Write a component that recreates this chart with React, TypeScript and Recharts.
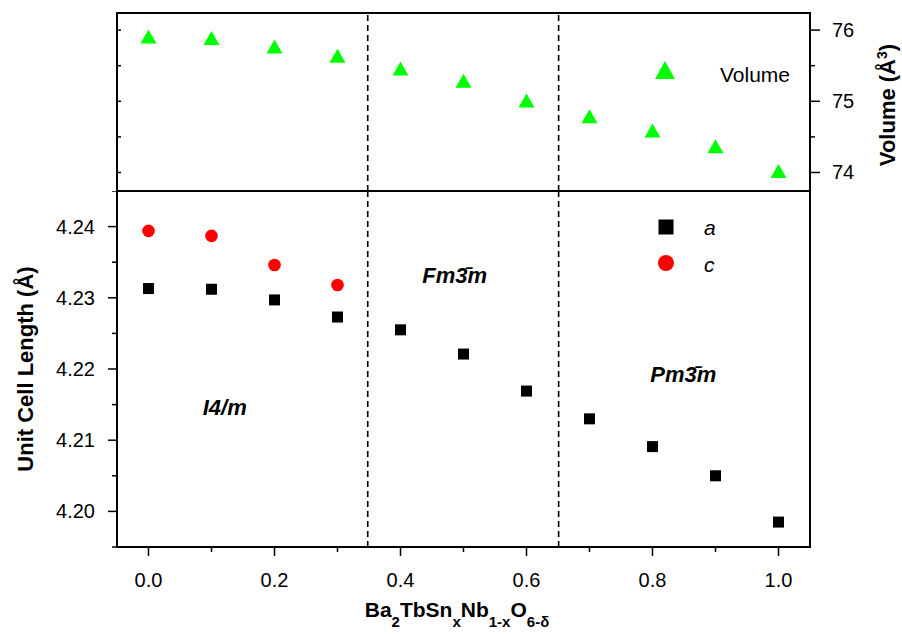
import React from "react";
import {
  ScatterChart,
  Scatter,
  XAxis,
  YAxis,
  ReferenceLine,
  ReferenceArea,
  ReferenceDot,
  Legend,
} from "recharts";

const FONT = '"Liberation Sans", Arial, Helvetica, sans-serif';

// composition x of Ba2TbSnxNb1-xO6-d
const xValues = [0, 0.1, 0.2, 0.3, 0.4, 0.5, 0.6, 0.7, 0.8, 0.9, 1.0];
// cell volume (A^3)
const volume = [75.91, 75.89, 75.77, 75.64, 75.46, 75.29, 75.01, 74.79, 74.59, 74.37, 74.02];
// lattice parameter a (A)
const aLength = [4.2313, 4.2312, 4.2297, 4.2273, 4.2255, 4.2221, 4.2169, 4.213, 4.2091, 4.205, 4.1985];
// tetragonal c (A), only below x = 0.35
const cX = [0, 0.1, 0.2, 0.3];
const cLength = [4.2394, 4.2387, 4.2346, 4.2318];

const xTicks = [0, 0.1, 0.2, 0.3, 0.4, 0.5, 0.6, 0.7, 0.8, 0.9, 1.0];
const xMajor = [0, 0.2, 0.4, 0.6, 0.8, 1.0];
const volumeTicks = [74, 74.5, 75, 75.5, 76];
const volumeMajor = [74, 75, 76];
const lengthTicks = [4.195, 4.2, 4.205, 4.21, 4.215, 4.22, 4.225, 4.23, 4.235, 4.24, 4.245];
const lengthMajor = [4.2, 4.21, 4.22, 4.23, 4.24];
const phaseBounds = [0.348, 0.651];

const xDomain = [-0.05, 1.05];
const volumeDomain = [73.74, 76.24];
const lengthDomain = [4.195, 4.245];

const volumeData = xValues.map((x, i) => ({ x, y: volume[i] }));
const aData = xValues.map((x, i) => ({ x, y: aLength[i] }));
const cData = cX.map((x, i) => ({ x, y: cLength[i] }));

const isIn = (list: number[], v: number) => list.some((m) => Math.abs(m - v) < 1e-6);

const Square = (p: any) => (
  <rect x={p.cx - 5.5} y={p.cy - 5.5} width={11} height={11} fill="#000" />
);
const Dot = (p: any) => <circle cx={p.cx} cy={p.cy} r={6.3} fill="#ff0000" />;
const Tri = (p: any) => (
  <polygon
    points={`${p.cx},${p.cy - 7} ${p.cx - 8},${p.cy + 7} ${p.cx + 8},${p.cy + 7}`}
    fill="#00ff00"
  />
);
const Nothing = () => <g />;

function BottomTick(props: any) {
  const { x, y, payload } = props;
  const major = isIn(xMajor, payload.value);
  return (
    <g>
      <line x1={x} x2={x} y1={y} y2={y + (major ? 9 : 5)} stroke="#000" strokeWidth={1.5} />
      {major && (
        <text x={x} y={y + 40} textAnchor="middle" fontSize={20} fontFamily={FONT} fill="#000">
          {payload.value.toFixed(1)}
        </text>
      )}
    </g>
  );
}

function LengthTick(props: any) {
  const { x, y, payload } = props;
  const major = isIn(lengthMajor, payload.value);
  return (
    <g>
      <line x1={x} x2={x - (major ? 9 : 5)} y1={y} y2={y} stroke="#000" strokeWidth={1.5} />
      {major && (
        <text x={x - 22} y={y + 7} textAnchor="end" fontSize={20} fontFamily={FONT} fill="#000">
          {payload.value.toFixed(2)}
        </text>
      )}
    </g>
  );
}

function VolumeRightTick(props: any) {
  const { x, y, payload } = props;
  const major = isIn(volumeMajor, payload.value);
  return (
    <g>
      <line x1={x} x2={x + (major ? 10 : 5)} y1={y} y2={y} stroke="#000" strokeWidth={1.5} />
      {major && (
        <text x={x + 22} y={y + 7} textAnchor="start" fontSize={20} fontFamily={FONT} fill="#000">
          {payload.value}
        </text>
      )}
    </g>
  );
}

function VolumeLeftTick(props: any) {
  const { x, y } = props;
  return <line x1={x} x2={x + 4} y1={y} y2={y} stroke="#000" strokeWidth={1.5} />;
}

function PhaseLabel({ cx, cy, text }: any) {
  return (
    <text
      x={cx}
      y={cy}
      textAnchor="middle"
      fontSize={22}
      fontWeight="bold"
      fontStyle="italic"
      fontFamily={FONT}
      fill="#000"
    >
      {text}
    </text>
  );
}

function VolumeLegend() {
  return (
    <svg width={160} height={36} style={{ display: "block" }}>
      <polygon points="15,6 5,24 25,24" fill="#00ff00" />
      <text x={70} y={27} fontSize={21} fontFamily={FONT} fill="#000">
        Volume
      </text>
    </svg>
  );
}

function LengthLegend() {
  return (
    <svg width={80} height={70} style={{ display: "block" }}>
      <rect x={8.5} y={8.5} width={15} height={15} fill="#000" />
      <text x={54} y={24} fontSize={21} fontStyle="italic" fontFamily={FONT} fill="#000">
        a
      </text>
      <circle cx={16} cy={52} r={8} fill="#ff0000" />
      <text x={54} y={61} fontSize={21} fontStyle="italic" fontFamily={FONT} fill="#000">
        c
      </text>
    </svg>
  );
}

export default function App() {
  return (
    <div
      style={{
        position: "absolute",
        left: 0,
        top: 0,
        width: 902,
        height: 634,
        background: "#fff",
        fontFamily: FONT,
      }}
    >
      <div style={{ position: "absolute", left: 0, top: 0 }}>
        <ScatterChart width={902} height={191} margin={{ top: 13, right: 0, bottom: 0, left: 0 }}>
          <XAxis type="number" dataKey="x" domain={xDomain} allowDataOverflow hide />
          <YAxis
            yAxisId="left"
            type="number"
            dataKey="y"
            domain={volumeDomain}
            allowDataOverflow
            ticks={volumeTicks}
            interval={0}
            width={117}
            axisLine={false}
            tickLine={false}
            tickSize={0}
            tickMargin={0}
            tick={<VolumeLeftTick />}
          />
          <YAxis
            yAxisId="right"
            orientation="right"
            type="number"
            dataKey="y"
            domain={volumeDomain}
            allowDataOverflow
            ticks={volumeTicks}
            interval={0}
            width={92}
            axisLine={false}
            tickLine={false}
            tickSize={0}
            tickMargin={0}
            tick={<VolumeRightTick />}
            label={{
              content: (lp: any) => {
                const vb = lp.viewBox;
                return (
                  <text
                    transform={`translate(${vb.x + 85},${vb.y + vb.height / 2 + 3}) rotate(-90)`}
                    textAnchor="middle"
                    fontSize={22}
                    fontWeight="bold"
                    fontFamily={FONT}
                    fill="#000"
                  >
                    Volume (Å<tspan dy={-8} fontSize={14}>3</tspan>
                    <tspan dy={8}>)</tspan>
                  </text>
                );
              },
            }}
          />
          {phaseBounds.map((b) => (
            <ReferenceLine
              key={b}
              yAxisId="left"
              x={b}
              stroke="#000"
              strokeWidth={1.6}
              strokeDasharray="6 4"
            />
          ))}
          <ReferenceArea
            yAxisId="left"
            x1={xDomain[0]}
            x2={xDomain[1]}
            y1={volumeDomain[0]}
            y2={volumeDomain[1]}
            fill="none"
            fillOpacity={0}
            stroke="#000"
            strokeWidth={2}
            ifOverflow="visible"
          />
          <Scatter
            name="Volume"
            yAxisId="left"
            data={volumeData}
            shape={Tri}
            isAnimationActive={false}
          />
          <Scatter
            yAxisId="right"
            data={volumeData}
            shape={Nothing}
            legendType="none"
            isAnimationActive={false}
          />
          <Legend
            layout="vertical"
            align="center"
            verticalAlign="middle"
            content={() => <VolumeLegend />}
            wrapperStyle={{ left: 650, top: 55, width: 160, height: 36 }}
          />
        </ScatterChart>
      </div>

      <div style={{ position: "absolute", left: 0, top: 191 }}>
        <ScatterChart width={902} height={443} margin={{ top: 0, right: 92, bottom: 0, left: 0 }}>
          <XAxis
            type="number"
            dataKey="x"
            domain={xDomain}
            allowDataOverflow
            ticks={xTicks}
            interval={0}
            height={87}
            axisLine={false}
            tickLine={false}
            tickSize={0}
            tickMargin={0}
            tick={<BottomTick />}
            label={{
              content: (lp: any) => {
                const vb = lp.viewBox;
                return (
                  <text
                    x={vb.x + 340}
                    y={vb.y + 70}
                    textAnchor="middle"
                    fontSize={21}
                    fontWeight="bold"
                    fontFamily={FONT}
                    fill="#000"
                  >
                    Ba<tspan dy={10} fontSize={15}>2</tspan>
                    <tspan dy={-10}>TbSn</tspan>
                    <tspan dy={10} fontSize={15}>x</tspan>
                    <tspan dy={-10}>Nb</tspan>
                    <tspan dy={10} fontSize={15}>1-x</tspan>
                    <tspan dy={-10}>O</tspan>
                    <tspan dy={10} fontSize={15}>6-δ</tspan>
                  </text>
                );
              },
            }}
          />
          <YAxis
            type="number"
            dataKey="y"
            domain={lengthDomain}
            allowDataOverflow
            ticks={lengthTicks}
            interval={0}
            width={117}
            axisLine={false}
            tickLine={false}
            tickSize={0}
            tickMargin={0}
            tick={<LengthTick />}
            label={{
              content: (lp: any) => {
                const vb = lp.viewBox;
                return (
                  <text
                    transform={`translate(${vb.x + 33},${vb.y + vb.height / 2}) rotate(-90)`}
                    textAnchor="middle"
                    fontSize={22}
                    fontWeight="bold"
                    fontFamily={FONT}
                    fill="#000"
                  >
                    Unit Cell Length (Å)
                  </text>
                );
              },
            }}
          />
          {phaseBounds.map((b) => (
            <ReferenceLine key={b} x={b} stroke="#000" strokeWidth={1.6} strokeDasharray="6 4" />
          ))}
          <ReferenceArea
            x1={xDomain[0]}
            x2={xDomain[1]}
            y1={lengthDomain[0]}
            y2={lengthDomain[1]}
            fill="none"
            fillOpacity={0}
            stroke="#000"
            strokeWidth={2}
            ifOverflow="visible"
          />
          <ReferenceDot x={0.121} y={4.2135} r={0} ifOverflow="visible" shape={(p: any) => <PhaseLabel {...p} text="I4/m" />} />
          <ReferenceDot x={0.486} y={4.2321} r={0} ifOverflow="visible" shape={(p: any) => <PhaseLabel {...p} text={"Fm3\u0304m"} />} />
          <ReferenceDot x={0.849} y={4.2182} r={0} ifOverflow="visible" shape={(p: any) => <PhaseLabel {...p} text={"Pm3\u0304m"} />} />
          <Scatter name="a" data={aData} shape={Square} isAnimationActive={false} />
          <Scatter name="c" data={cData} shape={Dot} isAnimationActive={false} />
          <Legend
            layout="vertical"
            align="center"
            verticalAlign="middle"
            content={() => <LengthLegend />}
            wrapperStyle={{ left: 650, top: 20, width: 80, height: 70 }}
          />
        </ScatterChart>
      </div>
    </div>
  );
}
